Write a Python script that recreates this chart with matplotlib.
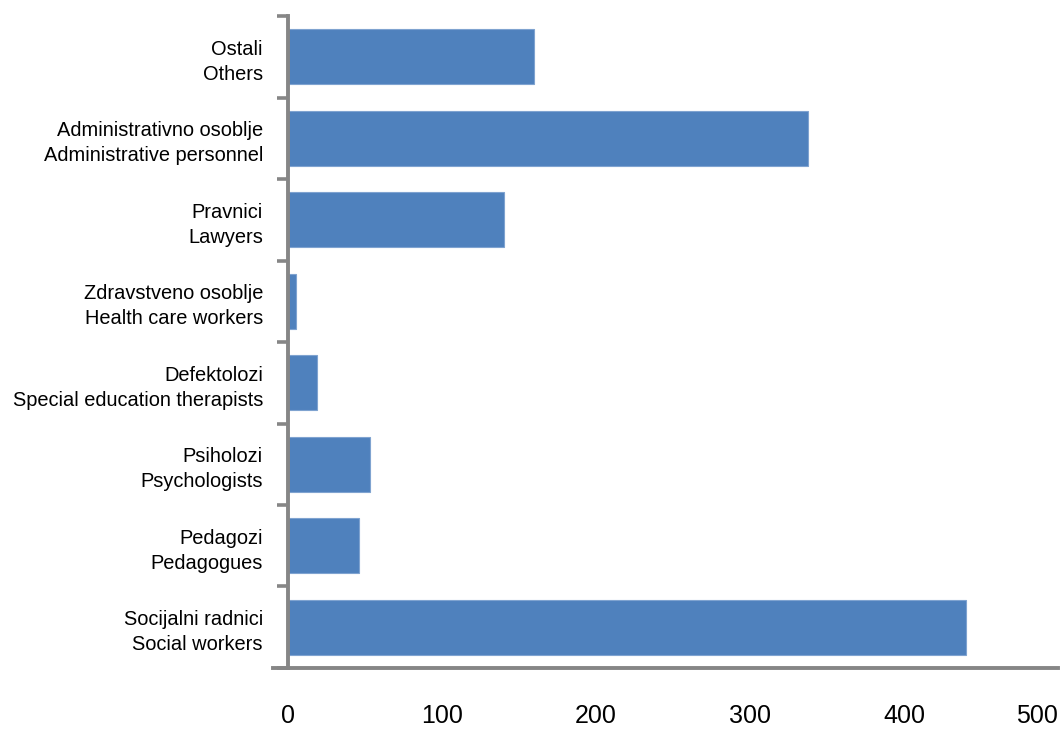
import numpy as np
import matplotlib.pyplot as plt

# categories from bottom to top
labels = [
    "Socijalni radnici\nSocial workers",
    "Pedagozi\nPedagogues",
    "Psiholozi\nPsychologists",
    "Defektolozi\nSpecial education therapists",
    "Zdravstveno osoblje\nHealth care workers",
    "Pravnici\nLawyers",
    "Administrativno osoblje\nAdministrative personnel",
    "Ostali\nOthers",
]
values = [440, 46, 53, 19, 5, 140, 338, 160]
xticks = [0, 100, 200, 300, 400, 500]

plt.rcParams['font.family'] = ['Liberation Sans', 'DejaVu Sans']
gray = '#868686'

fig = plt.figure(figsize=(10.61, 7.29), dpi=100)
ax = fig.add_axes([0.2714, 0.0837, 0.7257, 0.8943])

y = np.arange(len(labels))
ax.barh(y, values, height=0.68, color='#4F81BD', edgecolor='#7FA3D0', linewidth=0.8)

ax.set_xlim(0, 500)
ax.set_ylim(-0.5, len(labels) - 0.5)

ax.set_yticks(y)
ax.set_yticklabels(labels, fontsize=14.4, linespacing=1.4, ha='right')
ax.set_yticks(np.arange(-0.5, len(labels)), minor=True)
ax.tick_params(axis='y', which='major', length=0, pad=18)
ax.tick_params(axis='y', which='minor', length=8, width=2.6, color=gray, direction='out')

ax.set_xticks(xticks)
ax.set_xticklabels([str(v) for v in xticks], fontsize=18)
ax.tick_params(axis='x', length=0, pad=26)
ax.get_xticklabels()[-1].set_horizontalalignment('right')

for s in ['top', 'right']:
    ax.spines[s].set_visible(False)
for s in ['left', 'bottom']:
    ax.spines[s].set_color(gray)
    ax.spines[s].set_linewidth(2.8)
ax.spines['bottom'].set_bounds(-10, 500)

fig.savefig('out.png', dpi=100)
